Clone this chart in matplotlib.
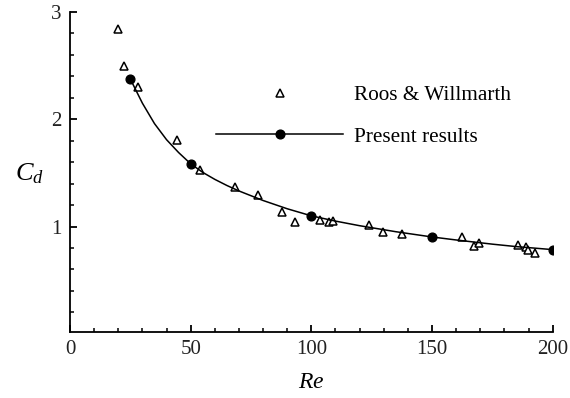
import matplotlib
matplotlib.use('Agg')
import matplotlib.pyplot as plt
from matplotlib.ticker import MultipleLocator

plt.rcParams['font.family'] = 'Liberation Serif'
plt.rcParams['mathtext.fontset'] = 'custom'
plt.rcParams['mathtext.rm'] = 'Liberation Serif'
plt.rcParams['mathtext.it'] = 'Liberation Serif:italic'

# Roos & Willmarth (experiment)
re_exp = [20.0, 22.4, 28.3, 44.3, 53.9, 68.4, 77.8, 87.7, 93.4, 103.4, 107.5, 109.0,
          123.7, 129.6, 137.7, 162.5, 167.5, 169.6, 185.7, 188.8, 189.9, 192.8]
cd_exp = [2.84, 2.50, 2.30, 1.81, 1.53, 1.366, 1.29, 1.138, 1.047, 1.063, 1.04, 1.05,
          1.019, 0.947, 0.929, 0.906, 0.819, 0.844, 0.832, 0.807, 0.779, 0.753]

# present results (computed points)
re_pts = [25, 50, 100, 150, 200]
cd_pts = [2.375, 1.585, 1.10, 0.903, 0.785]

# fitted curve through the present results
re_fit = [25, 30, 35, 40, 45, 50, 55, 60, 65, 70, 80, 90, 100, 110, 120, 135,
          150, 160, 175, 185, 200]
cd_fit = [2.375, 2.15, 1.96, 1.81, 1.69, 1.585, 1.505, 1.44, 1.383, 1.332, 1.243,
          1.166, 1.10, 1.051, 1.008, 0.952, 0.903, 0.875, 0.836, 0.813, 0.785]

fig = plt.figure(figsize=(5.7, 3.98), dpi=100)
ax = fig.add_axes([0.1228, 0.1666, 0.8469, 0.8032])

ax.plot(re_exp, cd_exp, linestyle='none', marker='^', markersize=5.3,
        markerfacecolor='white', markeredgecolor='black', markeredgewidth=1.1)
ax.plot(re_fit, cd_fit, color='black', linewidth=1.1)
ax.plot(re_pts, cd_pts, linestyle='none', marker='o', markersize=6.3, color='black')

# legend entries
h_exp, = ax.plot([], [], linestyle='none', marker='^', markersize=5.3,
                 markerfacecolor='white', markeredgecolor='black', markeredgewidth=1.1)
h_num, = ax.plot([], [], color='black', linewidth=1.1, marker='o', markersize=6.3)
leg = ax.legend([h_exp, h_num], ['Roos & Willmarth', 'Present results'],
                loc='upper left', bbox_to_anchor=(0.302, 0.77), frameon=False,
                fontsize=15.3, handlelength=6.0, handletextpad=0.5,
                labelspacing=1.0, numpoints=1, borderpad=0, borderaxespad=0)

ax.set_xlim(0, 200)
ax.set_ylim(0.02, 3)
ax.set_xticks([0, 50, 100, 150, 200])
ax.set_yticks([1, 2, 3])
ax.xaxis.set_minor_locator(MultipleLocator(10))
ax.yaxis.set_minor_locator(MultipleLocator(0.2))

ax.spines['top'].set_visible(False)
ax.spines['right'].set_visible(False)
for s in ['left', 'bottom']:
    ax.spines[s].set_linewidth(1.3)

ax.tick_params(which='major', direction='in', length=5, width=1.3,
               labelsize=15, pad=6, colors='black')
ax.tick_params(which='minor', direction='in', length=3, width=1.1)
for lab in ax.get_xticklabels() + ax.get_yticklabels():
    lab.set_color('#222222')

ax.set_xlabel('$Re$', fontsize=17, labelpad=9)
ax.set_ylabel('$C_d$', fontsize=19, rotation=0, labelpad=18)
ax.yaxis.set_label_coords(-0.084, 0.457)

fig.savefig('out.png', dpi=100)
